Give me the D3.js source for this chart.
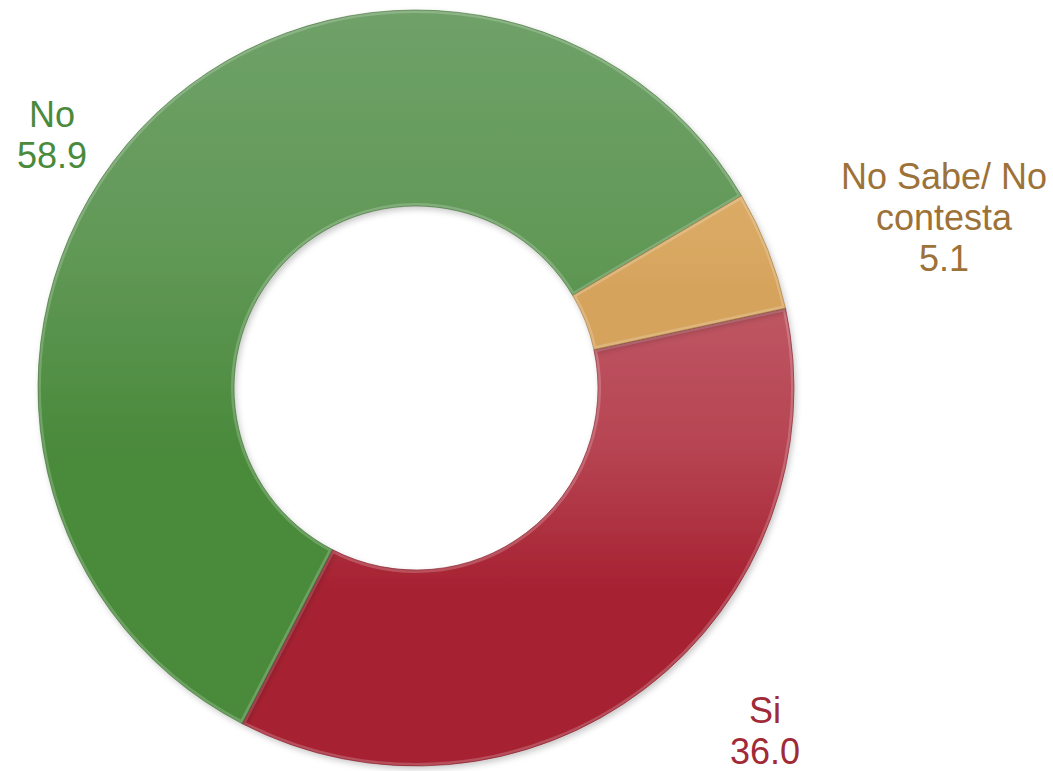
<!DOCTYPE html>
<html><head><meta charset="utf-8">
<script src="https://cdn.jsdelivr.net/npm/d3@7"></script>
<style>body{margin:0;background:#fff;}svg{display:block;}</style>
</head><body>
<svg id="chart" width="1053" height="771"></svg>
<script>
const categories = ["Si", "No", "No Sabe/ No contesta"];
const values = [36.0, 58.9, 5.1];
const labelLines = [["Si", "36.0"], ["No", "58.9"], ["No Sabe/ No", "contesta", "5.1"]];

const colorsTop = ["#be5662", "#6fa168", "#dbab66"];
const colorsBottom = ["#a62131", "#4a8a3b", "#d6a35b"];
const edgeColors = ["#7e1a24", "#3a6b2e", "#a07a3a"];
const textColors = ["#a02a38", "#4a8a3c", "#9c7238"];

const W = 1053, H = 771;
const cx = 416, cy = 388, R = 378, r0 = 182;
const startDeg = 77.8;

const svg = d3.select("#chart");
const defs = svg.append("defs");

const pie = d3.pie().sort(null).value(d => d)
  .startAngle(startDeg * Math.PI / 180)
  .endAngle(startDeg * Math.PI / 180 + 2 * Math.PI);
const arcs = pie(values);
const arc = d3.arc().innerRadius(r0).outerRadius(R);

categories.forEach((c, i) => {
  const g = defs.append("linearGradient").attr("id", "g" + i)
    .attr("x1", 0).attr("y1", 0).attr("x2", 0).attr("y2", 1);
  g.append("stop").attr("offset", "0%").attr("stop-color", colorsTop[i]);
  g.append("stop").attr("offset", "32%").attr("stop-color", d3.interpolateRgb(colorsTop[i], colorsBottom[i])(0.35));
  g.append("stop").attr("offset", "62%").attr("stop-color", colorsBottom[i]);
  g.append("stop").attr("offset", "100%").attr("stop-color", colorsBottom[i]);
});
const sh = defs.append("filter").attr("id", "shadow").attr("x", "-10%").attr("y", "-10%").attr("width", "120%").attr("height", "120%");
sh.append("feDropShadow").attr("dx", 2).attr("dy", 3).attr("stdDeviation", 3).attr("flood-color", "#000").attr("flood-opacity", 0.22);

const g = svg.append("g").attr("transform", `translate(${cx},${cy})`);

arcs.forEach((a, i) => {
  defs.append("clipPath").attr("id", "clip" + i)
    .append("path").attr("d", arc(a));
});

const slices = g.selectAll("g.slice").data(arcs).enter().append("g").attr("class", "slice");
slices.append("path")
  .attr("d", arc)
  .attr("fill", (d, i) => `url(#g${i})`)
  .attr("filter", "url(#shadow)");
slices.append("path")
  .attr("d", arc)
  .attr("fill", "none")
  .attr("stroke", "#ffffff")
  .attr("stroke-opacity", 0.2)
  .attr("stroke-width", 6)
  .attr("clip-path", (d, i) => `url(#clip${i})`);
slices.append("path")
  .attr("d", arc)
  .attr("fill", "none")
  .attr("stroke", (d, i) => edgeColors[i])
  .attr("stroke-opacity", 0.6)
  .attr("stroke-width", 1);

const labelPos = [
  { x: 765, y: 723 },
  { x: 52, y: 127 },
  { x: 944, y: 189 }
];
const lineH = 41;
categories.forEach((c, i) => {
  const t = svg.append("text")
    .attr("text-anchor", "middle")
    .attr("font-family", "Liberation Sans, Arial, sans-serif")
    .attr("font-size", 36)
    .attr("fill", textColors[i]);
  labelLines[i].forEach((ln, j) => {
    t.append("tspan").attr("x", labelPos[i].x).attr("y", labelPos[i].y + j * lineH).text(ln);
  });
});
</script>
</body></html>
